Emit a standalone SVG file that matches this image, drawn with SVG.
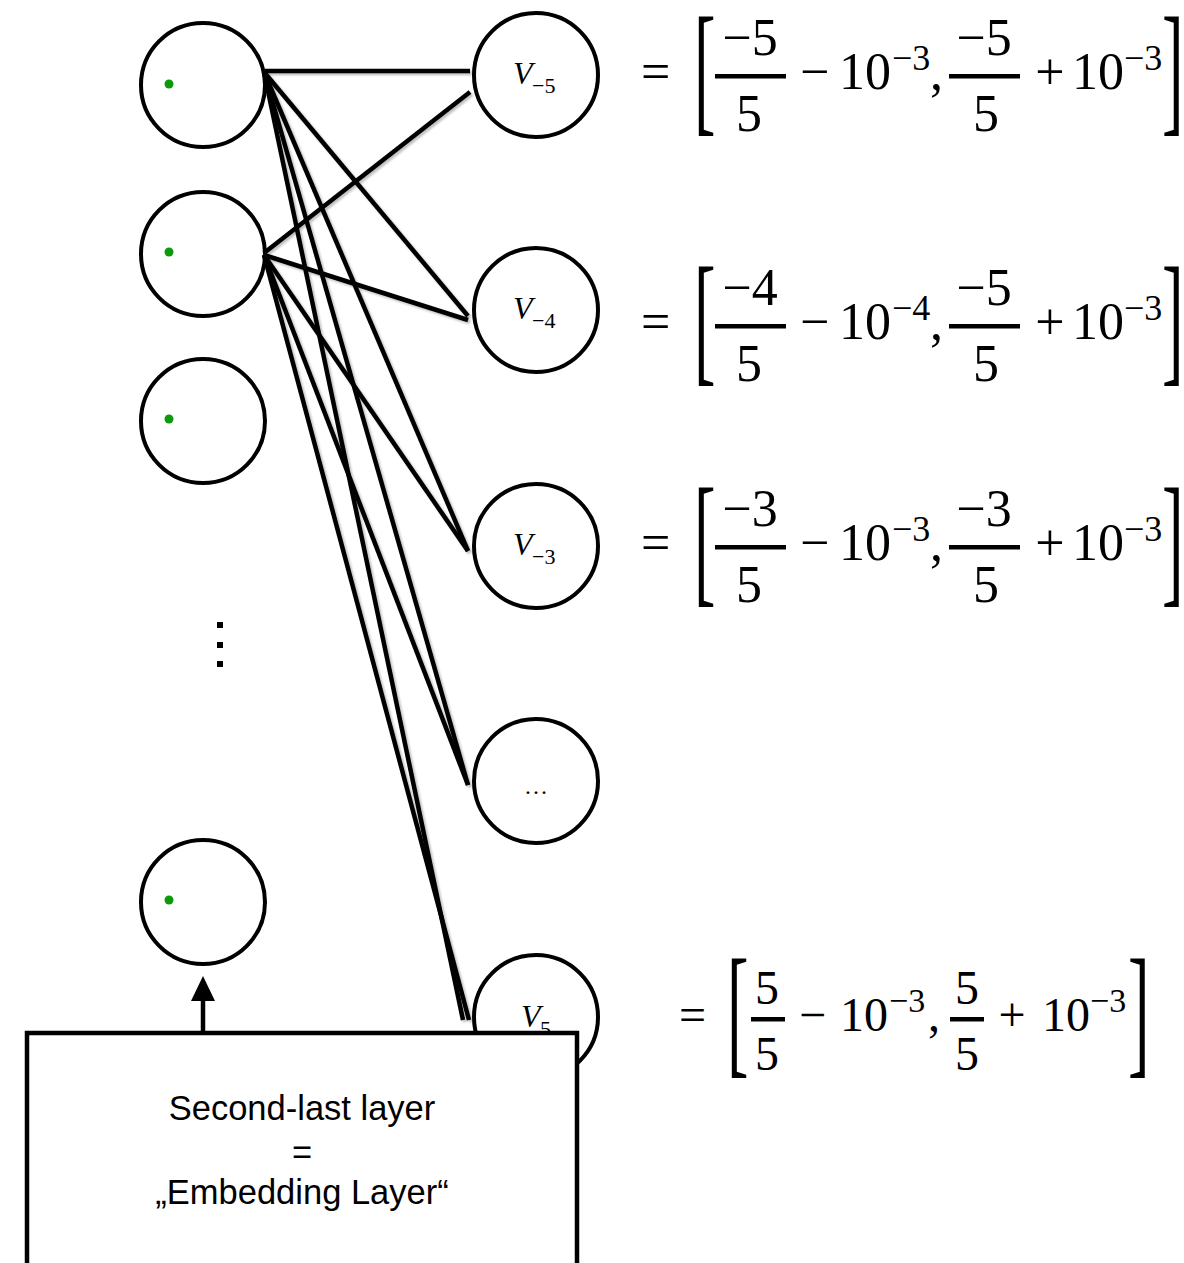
<svg xmlns="http://www.w3.org/2000/svg" width="1184" height="1263" viewBox="0 0 1184 1263">
<style>
.node{fill:#fff;stroke:#000;stroke-width:4}
.dot{fill:#0a9a0a}
.conn{stroke:#000;stroke-width:4.5;stroke-linecap:butt;fill:none}
.m{font-family:"Liberation Serif","Times New Roman",serif;fill:#000}
.main{font-size:52px}
.sup{font-size:36px}
.f4{font-size:48px}
.f4s{font-size:34px}
.br{font-size:144px}
.vl{font-family:"Liberation Serif","Times New Roman",serif;font-style:italic;font-size:32px}
.vs{font-family:"Liberation Serif","Times New Roman",serif;font-size:22px}
.bar{fill:#000}
.lbl{font-family:"Liberation Sans",Arial,sans-serif;font-size:34.5px;text-anchor:middle;fill:#000}
</style>
<defs>
<filter id="sh" x="-10%" y="-10%" width="130%" height="130%">
<feDropShadow dx="2" dy="2" stdDeviation="1.2" flood-color="#000" flood-opacity="0.25"/>
</filter>
</defs>
<rect width="1184" height="1263" fill="#fff"/>

<g id="left-nodes">
<g id="n1"><circle class="node" cx="203" cy="85" r="62"/><circle class="dot" cx="169" cy="84" r="4.5"/></g>
<g id="n2"><circle class="node" cx="203" cy="254" r="62"/><circle class="dot" cx="169" cy="252" r="4.5"/></g>
<g id="n3"><circle class="node" cx="203" cy="421" r="62"/><circle class="dot" cx="169" cy="419" r="4.5"/></g>
<g id="vdots"><rect x="217" y="622" width="6" height="6"/><rect x="217" y="642" width="6" height="6"/><rect x="217" y="661" width="6" height="6"/></g>
<g id="n4"><circle class="node" cx="203" cy="902" r="62"/><circle class="dot" cx="169" cy="900" r="4.5"/></g>
</g>

<g id="right-nodes">
<g id="vm5"><circle class="node" cx="536" cy="75" r="62"/><text class="vl" x="513" y="84">V</text><text class="vs" x="532" y="93">−5</text></g>
<g id="vm4"><circle class="node" cx="536" cy="310" r="62"/><text class="vl" x="513" y="319">V</text><text class="vs" x="532" y="328">−4</text></g>
<g id="vm3"><circle class="node" cx="536" cy="546" r="62"/><text class="vl" x="513" y="555">V</text><text class="vs" x="532" y="564">−3</text></g>
<g id="vdots2"><circle class="node" cx="536" cy="781" r="62"/><text class="m" x="536" y="794" font-size="24" text-anchor="middle">…</text></g>
<g id="v5"><circle class="node" cx="536" cy="1017" r="62"/><text class="vl" x="521" y="1027">V</text><text class="vs" x="540" y="1036">5</text></g>
</g>

<g id="connectors" filter="url(#sh)">
<line class="conn" x1="264" y1="71" x2="470" y2="71"/>
<line class="conn" x1="264" y1="72" x2="468" y2="316"/>
<line class="conn" x1="264" y1="72" x2="468" y2="551"/>
<line class="conn" x1="264" y1="72" x2="468" y2="785"/>
<line class="conn" x1="264" y1="72" x2="463" y2="1020"/>
<line class="conn" x1="264" y1="253" x2="470" y2="92"/>
<line class="conn" x1="264" y1="255" x2="468" y2="320"/>
<line class="conn" x1="264" y1="255" x2="468" y2="551"/>
<line class="conn" x1="264" y1="255" x2="468" y2="785"/>
<line class="conn" x1="264" y1="255" x2="469" y2="1020"/>
</g>

<g id="formula1" class="m">
<text class="main" x="641" y="89">=</text>
<text class="br" transform="translate(694,117) scale(0.45,1)">[</text>
<text class="main" x="750" y="55" text-anchor="middle">−5</text>
<rect class="bar" x="715" y="74" width="71" height="4.5"/>
<text class="main" x="749" y="131" text-anchor="middle">5</text>
<text class="main" x="800" y="89">−</text>
<text class="main" x="839" y="89">10</text>
<text class="sup" x="892" y="70">−3</text>
<text class="main" x="930" y="89">,</text>
<text class="main" x="984" y="55" text-anchor="middle">−5</text>
<rect class="bar" x="949" y="74" width="71" height="4.5"/>
<text class="main" x="986" y="131" text-anchor="middle">5</text>
<text class="main" x="1050" y="89" text-anchor="middle">+</text>
<text class="main" x="1072" y="89">10</text>
<text class="sup" x="1124" y="70">−3</text>
<text class="br" transform="translate(1162,117) scale(0.45,1)">]</text>
</g>

<g id="formula2" class="m" transform="translate(0,250)">
<text class="main" x="641" y="89">=</text>
<text class="br" transform="translate(694,117) scale(0.45,1)">[</text>
<text class="main" x="750" y="55" text-anchor="middle">−4</text>
<rect class="bar" x="715" y="74" width="71" height="4.5"/>
<text class="main" x="749" y="131" text-anchor="middle">5</text>
<text class="main" x="800" y="89">−</text>
<text class="main" x="839" y="89">10</text>
<text class="sup" x="892" y="70">−4</text>
<text class="main" x="930" y="89">,</text>
<text class="main" x="984" y="55" text-anchor="middle">−5</text>
<rect class="bar" x="949" y="74" width="71" height="4.5"/>
<text class="main" x="986" y="131" text-anchor="middle">5</text>
<text class="main" x="1050" y="89" text-anchor="middle">+</text>
<text class="main" x="1072" y="89">10</text>
<text class="sup" x="1124" y="70">−3</text>
<text class="br" transform="translate(1162,117) scale(0.45,1)">]</text>
</g>

<g id="formula3" class="m" transform="translate(0,471)">
<text class="main" x="641" y="89">=</text>
<text class="br" transform="translate(694,117) scale(0.45,1)">[</text>
<text class="main" x="750" y="55" text-anchor="middle">−3</text>
<rect class="bar" x="715" y="74" width="71" height="4.5"/>
<text class="main" x="749" y="131" text-anchor="middle">5</text>
<text class="main" x="800" y="89">−</text>
<text class="main" x="839" y="89">10</text>
<text class="sup" x="892" y="70">−3</text>
<text class="main" x="930" y="89">,</text>
<text class="main" x="984" y="55" text-anchor="middle">−3</text>
<rect class="bar" x="949" y="74" width="71" height="4.5"/>
<text class="main" x="986" y="131" text-anchor="middle">5</text>
<text class="main" x="1050" y="89" text-anchor="middle">+</text>
<text class="main" x="1072" y="89">10</text>
<text class="sup" x="1124" y="70">−3</text>
<text class="br" transform="translate(1162,117) scale(0.45,1)">]</text>
</g>

<g id="formula4" class="m">
<text class="f4" x="679" y="1031">=</text>
<text class="br" transform="translate(727,1059) scale(0.45,1)">[</text>
<text class="f4" x="767" y="1004" text-anchor="middle">5</text>
<rect class="bar" x="751" y="1017" width="34" height="4.5"/>
<text class="f4" x="767" y="1070" text-anchor="middle">5</text>
<text class="f4" x="799" y="1031">−</text>
<text class="f4" x="840" y="1031">10</text>
<text class="f4s" x="889" y="1012">−3</text>
<text class="f4" x="928" y="1031">,</text>
<text class="f4" x="967" y="1004" text-anchor="middle">5</text>
<rect class="bar" x="950" y="1017" width="34" height="4.5"/>
<text class="f4" x="967" y="1070" text-anchor="middle">5</text>
<text class="f4" x="1012" y="1031" text-anchor="middle">+</text>
<text class="f4" x="1042" y="1031">10</text>
<text class="f4s" x="1090" y="1012">−3</text>
<text class="br" transform="translate(1128,1059) scale(0.45,1)">]</text>
</g>

<g id="embedding-box">
<rect x="27" y="1033" width="550" height="260" fill="#fff" stroke="#000" stroke-width="4.5"/>
<text class="lbl" x="302" y="1120">Second-last layer</text>
<text class="lbl" x="302" y="1164">=</text>
<text class="lbl" x="302" y="1204">„Embedding Layer“</text>
</g>

<g id="arrow">
<line x1="203" y1="1033" x2="203" y2="998" stroke="#000" stroke-width="4.5"/>
<polygon points="203,976 191,1001 215,1001" fill="#000"/>
</g>
</svg>
